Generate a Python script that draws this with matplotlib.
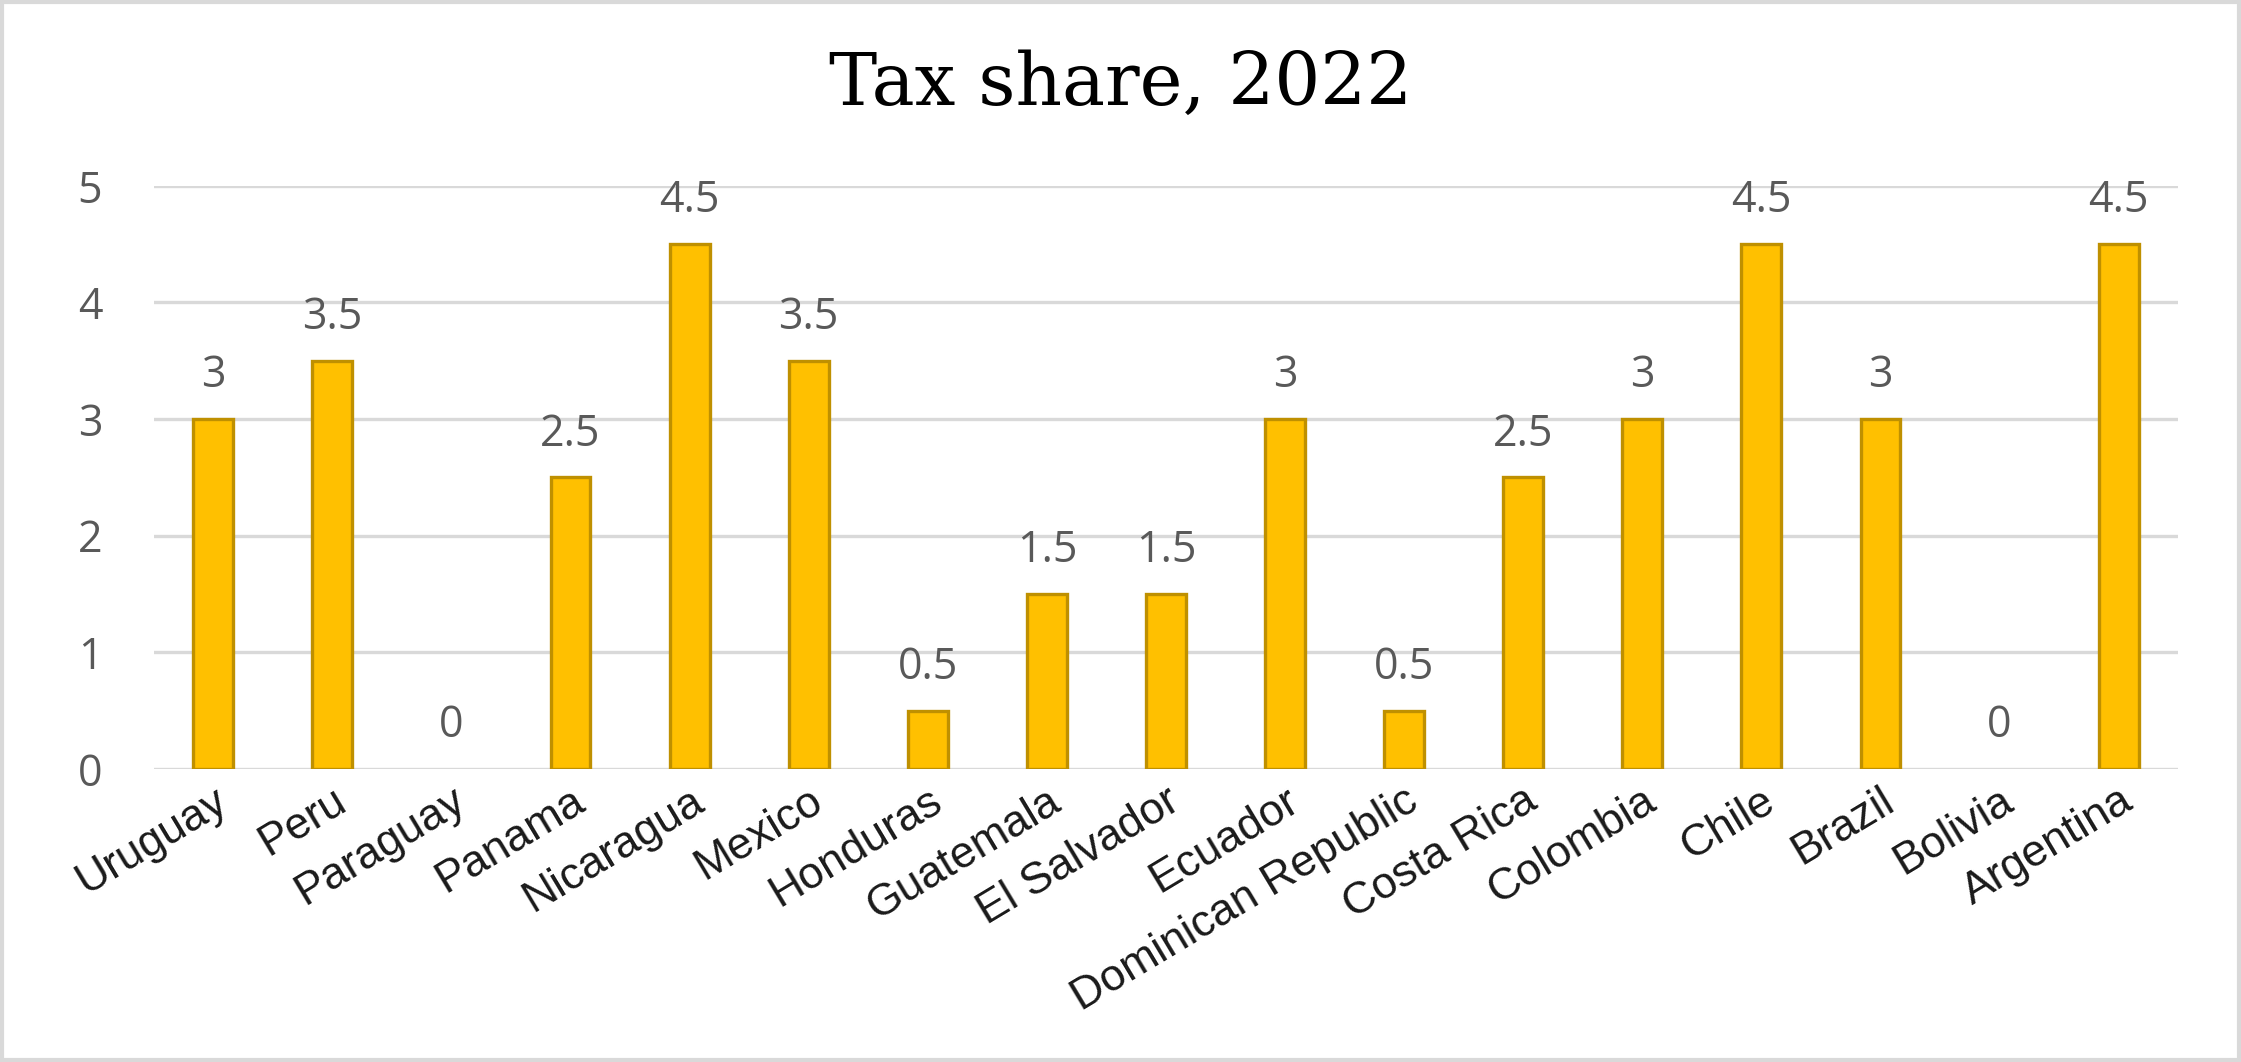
import numpy as np
import matplotlib
matplotlib.use("Agg")
import matplotlib.pyplot as plt

countries = ["Uruguay", "Peru", "Paraguay", "Panama", "Nicaragua", "Mexico",
             "Honduras", "Guatemala", "El Salvador", "Ecuador",
             "Dominican Republic", "Costa Rica", "Colombia", "Chile",
             "Brazil", "Bolivia", "Argentina"]
tax_share = [3, 3.5, 0, 2.5, 4.5, 3.5, 0.5, 1.5, 1.5, 3, 0.5, 2.5, 3, 4.5, 3, 0, 4.5]
yticks = [0, 1, 2, 3, 4, 5]

fig = plt.figure(figsize=(22.41, 10.62), dpi=100)
ax = fig.add_axes([0.0686, 0.276, 0.9034, 0.549])

x = np.arange(len(countries))
# zero-height bars show nothing in the original, so no outline for them
edge_w = [2.4 if v else 0 for v in tax_share]
ax.bar(x, tax_share, width=0.335, color="#FFC000", edgecolor="#BF9000",
       linewidth=edge_w, zorder=3)

for xi, v in zip(x, tax_share):
    lbl = "%g" % v
    ax.annotate(lbl, (xi, v), xytext=(0, 15), textcoords="offset points",
                ha="center", va="bottom", fontsize=31, color="#595959",
                family="Open Sans")

ax.set_xlim(-0.5, len(countries) - 0.5)
ax.set_ylim(0, 5)
ax.set_yticks(yticks)
ax.set_yticklabels([str(t) for t in yticks], fontsize=31, color="#595959",
                   family="Open Sans")
ax.set_xticks(x)
ax.set_xticklabels(countries, rotation=31, ha="right", va="top",
                   rotation_mode="anchor", fontsize=32, color="#1a1a1a",
                   family="Liberation Sans")
ax.tick_params(axis="both", length=0)
ax.tick_params(axis="y", pad=37)
ax.tick_params(axis="x", pad=8)

ax.grid(axis="y", color="#D9D9D9", linewidth=2.4, zorder=0)
for s in ax.spines.values():
    s.set_visible(False)

fig.text(0.5, 0.92, "Tax share, 2022", ha="center", va="center",
         fontsize=52, family="DejaVu Serif", color="black")

# light frame around the whole chart
fig.patches.append(plt.Rectangle((0.001, 0.002), 0.998, 0.996,
                                 transform=fig.transFigure, fill=False,
                                 edgecolor="#D9D9D9", linewidth=3))

fig.savefig("out.png", dpi=100)
